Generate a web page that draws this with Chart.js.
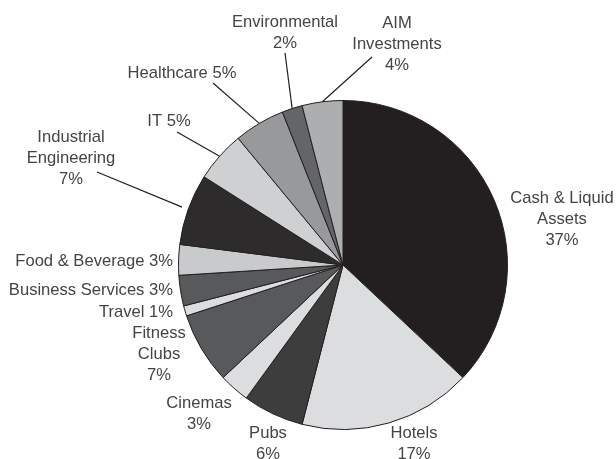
<!DOCTYPE html>
<html>
<head>
<meta charset="utf-8">
<script src="https://cdn.jsdelivr.net/npm/chart.js@4"></script>
<style>
  html, body { margin: 0; padding: 0; background: #fff; }
  #wrap { width: 616px; height: 459px; position: relative; }
</style>
</head>
<body>
<div id="wrap"><canvas id="pie" width="616" height="459"></canvas></div>
<script>
// 数据
const categories = ['Cash & Liquid Assets', 'Hotels', 'Pubs', 'Cinemas', 'Fitness Clubs', 'Travel',
  'Business Services', 'Food & Beverage', 'Industrial Engineering', 'IT', 'Healthcare',
  'Environmental', 'AIM Investments'];
const values = [37, 17, 6, 3, 7, 1, 3, 3, 7, 5, 5, 2, 4];
const sliceColors = ['#231f20', '#dcdddf', '#3d3d3e', '#dcdddf', '#58595b', '#dcdddf',
  '#58595b', '#c9cacc', '#2d2b2c', '#cfd0d2', '#98999b', '#646567', '#adaeb0'];

// 标签排版 (文字行, 位置, 对齐, 引线终点)
const labelLayout = [
  { name: ['Cash & Liquid', 'Assets'], x: 562, y: 198, align: 'center' },
  { name: ['Hotels'], x: 414, y: 433, align: 'center' },
  { name: ['Pubs'], x: 268, y: 433, align: 'center' },
  { name: ['Cinemas'], x: 199, y: 403, align: 'center' },
  { name: ['Fitness', 'Clubs'], x: 159, y: 333, align: 'center' },
  { name: ['Travel'], inline: true, x: 173, y: 312, align: 'right' },
  { name: ['Business Services'], inline: true, x: 173, y: 290, align: 'right' },
  { name: ['Food & Beverage'], inline: true, x: 173, y: 261, align: 'right' },
  { name: ['Industrial', 'Engineering'], x: 71, y: 137, align: 'center', leader: [97, 172], leaderR: 171 },
  { name: ['IT'], inline: true, x: 169, y: 121, align: 'center', leader: [177, 132] },
  { name: ['Healthcare'], inline: true, x: 182, y: 73, align: 'center', leader: [213, 83] },
  { name: ['Environmental'], x: 285, y: 22, align: 'center', leader: [285, 53] },
  { name: ['AIM', 'Investments'], x: 397, y: 23, align: 'center', leader: [372, 57] }
];

const lineGap = 21;

const labelPlugin = {
  id: 'pieLabels',
  afterDraw(chart) {
    const ctx = chart.ctx;
    const arcs = chart.getDatasetMeta(0).data;
    ctx.save();
    // 引线
    ctx.strokeStyle = '#231f20';
    ctx.lineWidth = 1.2;
    labelLayout.forEach((lay, i) => {
      if (!lay.leader) return;
      const arc = arcs[i];
      const p = arc.getProps(['x', 'y', 'startAngle', 'endAngle', 'outerRadius'], true);
      const mid = (p.startAngle + p.endAngle) / 2;
      const r = lay.leaderR || p.outerRadius;
      ctx.beginPath();
      ctx.moveTo(p.x + Math.cos(mid) * r, p.y + Math.sin(mid) * r);
      ctx.lineTo(lay.leader[0], lay.leader[1]);
      ctx.stroke();
    });
    // 文字
    ctx.fillStyle = '#444444';
    ctx.font = '16.6px "Liberation Sans", Arial, sans-serif';
    ctx.textBaseline = 'middle';
    labelLayout.forEach((lay, i) => {
      const pct = values[i] + '%';
      let lines;
      if (lay.inline) {
        lines = [lay.name[0] + ' ' + pct];
      } else {
        lines = lay.name.concat([pct]);
      }
      ctx.textAlign = lay.align;
      lines.forEach((t, k) => {
        ctx.fillText(t, lay.x, lay.y + k * lineGap);
      });
    });
    ctx.restore();
  }
};

new Chart(document.getElementById('pie'), {
  type: 'pie',
  data: {
    labels: categories,
    datasets: [{
      data: values,
      backgroundColor: sliceColors,
      borderColor: '#231f20',
      borderWidth: 1,
      borderAlign: 'center'
    }]
  },
  options: {
    responsive: false,
    animation: false,
    layout: { padding: { left: 178, right: 108, top: 100, bottom: 29 } },
    plugins: {
      legend: { display: false },
      tooltip: { enabled: false }
    }
  },
  plugins: [labelPlugin]
});
</script>
</body>
</html>
